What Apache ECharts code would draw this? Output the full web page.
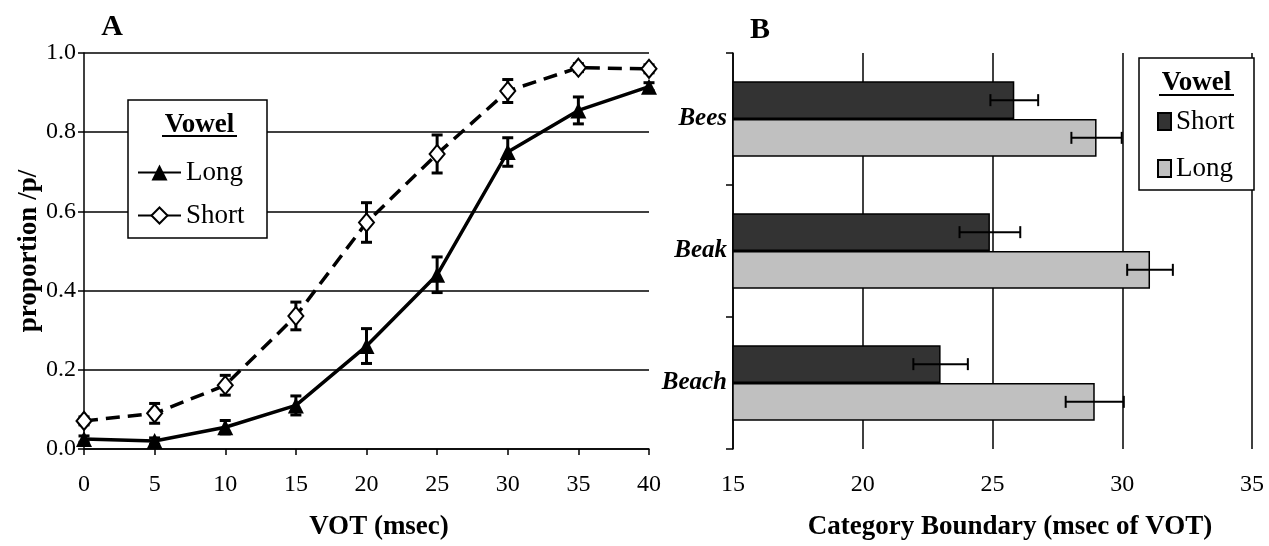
<!DOCTYPE html>
<html>
<head>
<meta charset="utf-8">
<script src="https://cdn.jsdelivr.net/npm/echarts@6/dist/echarts.min.js"></script>
<style>
  html, body { margin: 0; background: #fff; }
  #chart { width: 1269px; height: 546px; }
</style>
</head>
<body>
<div id="chart"></div>
<script>
// panel A: identification curves
const vot = [0, 5, 10, 15, 20, 25, 30, 35, 40]
const longProp = [0.025, 0.02, 0.055, 0.11, 0.26, 0.44, 0.75, 0.855, 0.915]
const longSE = [0.008, 0.008, 0.017, 0.024, 0.044, 0.045, 0.036, 0.034, 0.01]
const shortProp = [0.071, 0.09, 0.161, 0.336, 0.572, 0.745, 0.904, 0.963, 0.96]
const shortSE = [0.01, 0.025, 0.025, 0.035, 0.05, 0.048, 0.029, 0.01, 0.01]

// panel B: category boundaries
const words = ['Bees', 'Beak', 'Beach']
const shortBoundary = [25.84, 24.9, 23.0]
const shortBoundaryErr = [0.92, 1.17, 1.05]
const longBoundary = [29.01, 31.07, 28.94]
const longBoundaryErr = [0.97, 0.88, 1.12]

const FONT = 'Liberation Serif'
const BAR_W = 37.7

const chart = echarts.init(document.getElementById('chart'), null, { renderer: 'canvas' })

const black = '#000'
const lineStyle = { color: black, width: 1.5 }

function vErr (params, api) {
  const x = api.value(0)
  const lo = api.coord([x, api.value(1)])
  const hi = api.coord([x, api.value(2)])
  const st = { stroke: black, lineWidth: 3 }
  const w = 5.5
  return {
    type: 'group',
    children: [
      { type: 'line', shape: { x1: lo[0], y1: lo[1], x2: hi[0], y2: hi[1] }, style: st },
      { type: 'line', shape: { x1: hi[0] - w, y1: hi[1], x2: hi[0] + w, y2: hi[1] }, style: st },
      { type: 'line', shape: { x1: lo[0] - w, y1: lo[1], x2: lo[0] + w, y2: lo[1] }, style: st }
    ]
  }
}

function hErr (side) {
  return function (params, api) {
    const cat = api.value(1)
    const mid = api.value(0)
    const err = api.value(2)
    const l = api.coord([mid - err, cat])
    const r = api.coord([mid + err, cat])
    const y = l[1] + side * BAR_W / 2
    const st = { stroke: black, lineWidth: 2 }
    const h = 6
    return {
      type: 'group',
      children: [
        { type: 'line', shape: { x1: l[0], y1: y, x2: r[0], y2: y }, style: st },
        { type: 'line', shape: { x1: l[0], y1: y - h, x2: l[0], y2: y + h }, style: st },
        { type: 'line', shape: { x1: r[0], y1: y - h, x2: r[0], y2: y + h }, style: st }
      ]
    }
  }
}

const tickLabel = { color: black, fontFamily: FONT, fontSize: 24 }
const axisTitle = { color: black, fontFamily: FONT, fontSize: 27, fontWeight: 'bold' }
const centered = { fill: black, textAlign: 'center', textVerticalAlign: 'middle', align: 'center', verticalAlign: 'middle' }

const option = {
  backgroundColor: '#fff',
  animation: false,
  grid: [
    { left: 84, top: 53, width: 565, height: 397 },
    { left: 733, top: 53, width: 519, height: 396 }
  ],
  xAxis: [
    {
      type: 'value', gridIndex: 0, min: 0, max: 40, interval: 5,
      axisLine: { lineStyle }, axisTick: { length: 6, lineStyle },
      splitLine: { show: false },
      axisLabel: { ...tickLabel, margin: 24 },
      name: 'VOT (msec)', nameLocation: 'middle', nameGap: 65,
      nameTextStyle: { ...axisTitle, padding: [0, 0, 0, 25] }
    },
    {
      type: 'value', gridIndex: 1, min: 15, max: 35, interval: 5,
      axisLine: { lineStyle }, axisTick: { length: 7, lineStyle },
      splitLine: { show: true, lineStyle },
      axisLabel: { ...tickLabel, margin: 24 },
      name: 'Category Boundary (msec of VOT)', nameLocation: 'middle', nameGap: 65,
      nameTextStyle: { ...axisTitle, padding: [0, 0, 0, 35] }
    }
  ],
  yAxis: [
    {
      type: 'value', gridIndex: 0, min: 0, max: 1, interval: 0.2,
      axisLine: { show: true, lineStyle }, axisTick: { show: true, length: 6, lineStyle },
      splitLine: { show: true, lineStyle },
      axisLabel: { ...tickLabel, margin: 8, formatter: v => v.toFixed(1) },
      name: 'proportion /p/', nameLocation: 'middle', nameGap: 39, nameRotate: 90,
      nameTextStyle: axisTitle
    },
    {
      type: 'category', gridIndex: 1, data: words, inverse: true,
      axisLine: { show: true, lineStyle }, axisTick: { show: true, length: 7, lineStyle },
      splitLine: { show: false },
      axisLabel: { color: black, fontFamily: FONT, fontSize: 25, fontWeight: 'bold', fontStyle: 'italic', margin: 6 }
    }
  ],
  legend: [
    {
      data: [
        { name: 'Long', lineStyle: { type: 'solid' } },
        { name: 'Short', lineStyle: { type: 'solid' } }
      ],
      orient: 'vertical', left: 137, top: 159, padding: 0, z: 20,
      itemWidth: 43, itemHeight: 20, itemGap: 16,
      textStyle: { color: black, fontFamily: FONT, fontSize: 27, lineHeight: 27 },
      selectedMode: false
    },
    {
      data: ['Short (B)', 'Long (B)'],
      formatter: n => n.replace(' (B)', ''),
      icon: 'rect',
      orient: 'vertical', left: 1157, top: 108, padding: 0, z: 20,
      itemWidth: 13, itemHeight: 17, itemGap: 20,
      textStyle: { color: black, fontFamily: FONT, fontSize: 27, lineHeight: 27 },
      selectedMode: false
    }
  ],
  graphic: [
    { type: 'text', x: 112, y: 27, z: 30, style: { ...centered, text: 'A', font: 'bold 30px "Liberation Serif"' } },
    { type: 'text', x: 760, y: 30, z: 30, style: { ...centered, text: 'B', font: 'bold 30px "Liberation Serif"' } },
    { type: 'rect', z: 10, shape: { x: 128, y: 100, width: 139, height: 138 }, style: { fill: '#fff', stroke: black, lineWidth: 1.5 } },
    { type: 'text', x: 199.5, y: 125, z: 21, style: { ...centered, text: 'Vowel', font: 'bold 27px "Liberation Serif"' } },
    { type: 'line', z: 21, shape: { x1: 162, y1: 136, x2: 237, y2: 136 }, style: { stroke: black, lineWidth: 2 } },
    { type: 'rect', z: 10, shape: { x: 1139, y: 58, width: 115, height: 132 }, style: { fill: '#fff', stroke: black, lineWidth: 1.5 } },
    { type: 'text', x: 1196.5, y: 83, z: 21, style: { ...centered, text: 'Vowel', font: 'bold 27px "Liberation Serif"' } },
    { type: 'line', z: 21, shape: { x1: 1159, y1: 95, x2: 1234, y2: 95 }, style: { stroke: black, lineWidth: 2 } }
  ],
  series: [
    {
      type: 'custom', name: 'Long err', xAxisIndex: 0, yAxisIndex: 0, z: 2,
      renderItem: vErr, encode: { x: 0, y: [1, 2] },
      data: vot.map((v, i) => [v, longProp[i] - longSE[i], longProp[i] + longSE[i]])
    },
    {
      type: 'custom', name: 'Short err', xAxisIndex: 0, yAxisIndex: 0, z: 2,
      renderItem: vErr, encode: { x: 0, y: [1, 2] },
      data: vot.map((v, i) => [v, shortProp[i] - shortSE[i], shortProp[i] + shortSE[i]])
    },
    {
      type: 'line', name: 'Long', xAxisIndex: 0, yAxisIndex: 0, z: 3,
      data: vot.map((v, i) => [v, longProp[i]]),
      symbol: 'triangle', symbolSize: 16,
      itemStyle: { color: black },
      lineStyle: { color: black, width: 3.5 }
    },
    {
      type: 'line', name: 'Short', xAxisIndex: 0, yAxisIndex: 0, z: 4,
      data: vot.map((v, i) => [v, shortProp[i]]),
      symbol: 'diamond', symbolSize: [15, 18],
      itemStyle: { color: '#fff', borderColor: black, borderWidth: 2 },
      lineStyle: { color: black, width: 3.5, type: [14, 8] }
    },
    {
      type: 'bar', name: 'Short (B)', xAxisIndex: 1, yAxisIndex: 1,
      data: shortBoundary, barWidth: BAR_W, barGap: '0%',
      itemStyle: { color: '#333333', borderColor: black, borderWidth: 1.5 }
    },
    {
      type: 'bar', name: 'Long (B)', xAxisIndex: 1, yAxisIndex: 1,
      data: longBoundary, barWidth: BAR_W, barGap: '0%',
      itemStyle: { color: '#c0c0c0', borderColor: black, borderWidth: 1.5 }
    },
    {
      type: 'custom', name: 'Short (B) err', xAxisIndex: 1, yAxisIndex: 1, z: 5,
      renderItem: hErr(-1), encode: { x: 0, y: 1 },
      data: shortBoundary.map((m, i) => [m, i, shortBoundaryErr[i]])
    },
    {
      type: 'custom', name: 'Long (B) err', xAxisIndex: 1, yAxisIndex: 1, z: 5,
      renderItem: hErr(1), encode: { x: 0, y: 1 },
      data: longBoundary.map((m, i) => [m, i, longBoundaryErr[i]])
    }
  ]
}

chart.setOption(option)
window.addEventListener('resize', () => chart.resize())
</script>
</body>
</html>
